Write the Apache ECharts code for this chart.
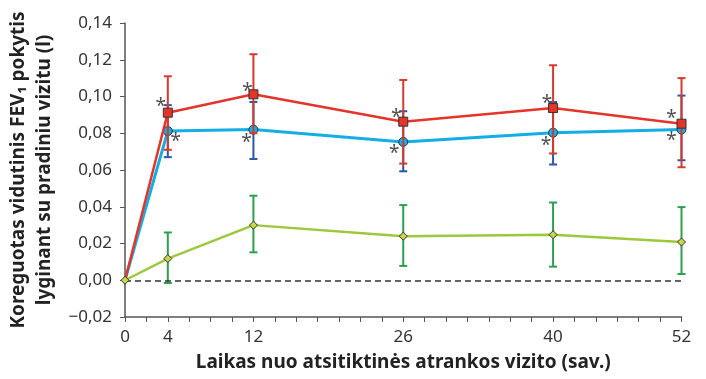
<!DOCTYPE html>
<html>
<head>
<meta charset="utf-8">
<script src="https://cdn.jsdelivr.net/npm/echarts@6/dist/echarts.min.js"></script>
<style>
  html, body { margin: 0; padding: 0; background: #ffffff; }
  #chart { width: 706px; height: 379px; }
</style>
</head>
<body>
<div id="chart"></div>
<script>
// Weeks since randomisation visit
const weeks = [0, 4, 12, 26, 40, 52];
const weekLabels = [0, 4, 12, 26, 40, 52];
const yTicks = [-0.02, 0.00, 0.02, 0.04, 0.06, 0.08, 0.10, 0.12, 0.14];

// Adjusted mean FEV1 change from baseline (l)
const redMean  = [0, 0.0912, 0.1012, 0.0863, 0.0937, 0.0852];
const redLow   = [0, 0.0710, 0.0800, 0.0635, 0.0690, 0.0615];
const redHigh  = [0, 0.1110, 0.1230, 0.1090, 0.1170, 0.1100];

const blueMean = [0, 0.0812, 0.0820, 0.0753, 0.0803, 0.0820];
const blueLow  = [0, 0.0670, 0.0660, 0.0593, 0.0630, 0.0653];
const blueHigh = [0, 0.0953, 0.0970, 0.0920, 0.0970, 0.1005];

const greenMean = [0, 0.0118, 0.0300, 0.0240, 0.0248, 0.0208];
const greenLow  = [0, -0.0015, 0.0152, 0.0078, 0.0074, 0.0034];
const greenHigh = [0, 0.0260, 0.0460, 0.0409, 0.0423, 0.0398];

// Significance markers (weeks 4..52)
const redStarWeeks  = [4, 12, 26, 40, 52];
const blueStarWeeks = [4, 12, 26, 40, 52];

const fontFam = '"Noto Sans", "Open Sans", sans-serif';

// Baseline point is drawn only by the green series
function pairs(ys, hideFirst) {
  return weeks.map((w, i) => (hideFirst && i === 0)
    ? { value: [w, ys[i]], symbol: 'none' }
    : [w, ys[i]]);
}
function errData(lo, hi) { return weeks.slice(1).map((w, k) => [w, lo[k + 1], hi[k + 1]]); }

function errorSeries(lo, hi, color, z) {
  return {
    type: 'custom',
    z: z,
    silent: true,
    data: errData(lo, hi),
    encode: { x: 0, y: [1, 2] },
    renderItem: function (params, api) {
      const x = api.value(0);
      const pLo = api.coord([x, api.value(1)]);
      const pHi = api.coord([x, api.value(2)]);
      const cap = 4;
      const st = { stroke: color, lineWidth: 2 };
      return {
        type: 'group',
        children: [
          { type: 'line', shape: { x1: pLo[0], y1: pLo[1], x2: pHi[0], y2: pHi[1] }, style: st },
          { type: 'line', shape: { x1: pLo[0] - cap, y1: pLo[1], x2: pLo[0] + cap, y2: pLo[1] }, style: st },
          { type: 'line', shape: { x1: pHi[0] - cap, y1: pHi[1], x2: pHi[0] + cap, y2: pHi[1] }, style: st }
        ]
      };
    }
  };
}

function starSeries(ws, means, offsets, z) {
  return {
    type: 'custom',
    z: z,
    silent: true,
    data: ws.map(w => [w, means[weeks.indexOf(w)]]),
    renderItem: function (params, api) {
      const p = api.coord([api.value(0), api.value(1)]);
      const o = offsets[params.dataIndex];
      return {
        type: 'text',
        style: {
          text: '*', x: p[0] + o[0], y: p[1] + o[1] + 4,
          fill: '#505050', font: '19px ' + fontFam,
          align: 'center', verticalAlign: 'middle'
        }
      };
    }
  };
}

const chart = echarts.init(document.getElementById('chart'), null, { renderer: 'canvas' });

chart.setOption({
  animation: false,
  backgroundColor: '#ffffff',
  grid: { left: 125, right: 24.5, top: 23, bottom: 62, containLabel: false, outerBoundsMode: 'none' },
  xAxis: {
    type: 'value',
    min: 0, max: 52, interval: 2,
    name: 'Laikas nuo atsitiktinės atrankos vizito (sav.)',
    nameLocation: 'middle',
    nameGap: 36,
    nameTextStyle: { fontFamily: fontFam, fontWeight: 'bold', fontSize: 19, color: '#222222' },
    axisLine: { onZero: false, lineStyle: { color: '#555555', width: 1.5 } },
    axisTick: { show: true, length: 5, lineStyle: { color: '#555555', width: 1 } },
    axisLabel: {
      fontFamily: fontFam, fontSize: 17, color: '#333333', margin: 12,
      formatter: v => weekLabels.indexOf(v) >= 0 ? String(v) : ''
    },
    splitLine: { show: false }
  },
  yAxis: {
    type: 'value',
    min: yTicks[0], max: yTicks[yTicks.length - 1], interval: 0.02,
    name: 'Koreguotas vidutinis FEV\u2081 pokytis\nlyginant su pradiniu vizitu (l)',
    nameLocation: 'middle',
    nameRotate: 90,
    nameGap: 66,
    nameTextStyle: { fontFamily: fontFam, fontWeight: 'bold', fontSize: 19, color: '#222222', lineHeight: 26 },
    axisLine: { show: true, lineStyle: { color: '#555555', width: 1.5 } },
    axisTick: { show: true, length: 5, lineStyle: { color: '#555555', width: 1 } },
    axisLabel: {
      fontFamily: fontFam, fontSize: 17, color: '#333333', margin: 13,
      formatter: v => (v < 0 ? '\u2212' : '') + Math.abs(v).toFixed(2).replace('.', ',')
    },
    splitLine: { show: false }
  },
  series: [
    {
      type: 'line', z: 1, silent: true, symbol: 'none', data: [],
      markLine: {
        silent: true, symbol: 'none', label: { show: false },
        lineStyle: { color: '#333333', type: [6, 4], width: 1.5 },
        data: [{ yAxis: 0 }]
      }
    },
    errorSeries(greenLow, greenHigh, '#2e9e4f', 2),
    errorSeries(blueLow, blueHigh, '#2f55a8', 4),
    {
      type: 'line', z: 5, data: pairs(blueMean, true),
      lineStyle: { color: '#13aee6', width: 3 },
      symbol: 'circle', symbolSize: 9,
      itemStyle: { color: '#13aee6', borderColor: '#333333', borderWidth: 1 }
    },
    errorSeries(redLow, redHigh, '#d53a2c', 6),
    {
      type: 'line', z: 7, data: pairs(redMean, true),
      lineStyle: { color: '#e3352a', width: 2.5 },
      symbol: 'rect', symbolSize: 9,
      itemStyle: { color: '#e3352a', borderColor: '#333333', borderWidth: 1 }
    },
    {
      type: 'line', z: 8, data: pairs(greenMean, false),
      lineStyle: { color: '#9cc83c', width: 2.5 },
      symbol: 'diamond', symbolSize: 8,
      itemStyle: { color: '#c7d64a', borderColor: '#333333', borderWidth: 1 }
    },
    starSeries(redStarWeeks, redMean, [[-7, -10], [-6, -7], [-7, -8], [-6, -8], [-10, -9]], 9),
    starSeries(blueStarWeeks, blueMean, [[8, 7], [-7, 9], [-9, 8], [-7, 9], [-10, 7]], 9)
  ]
});
</script>
</body>
</html>
